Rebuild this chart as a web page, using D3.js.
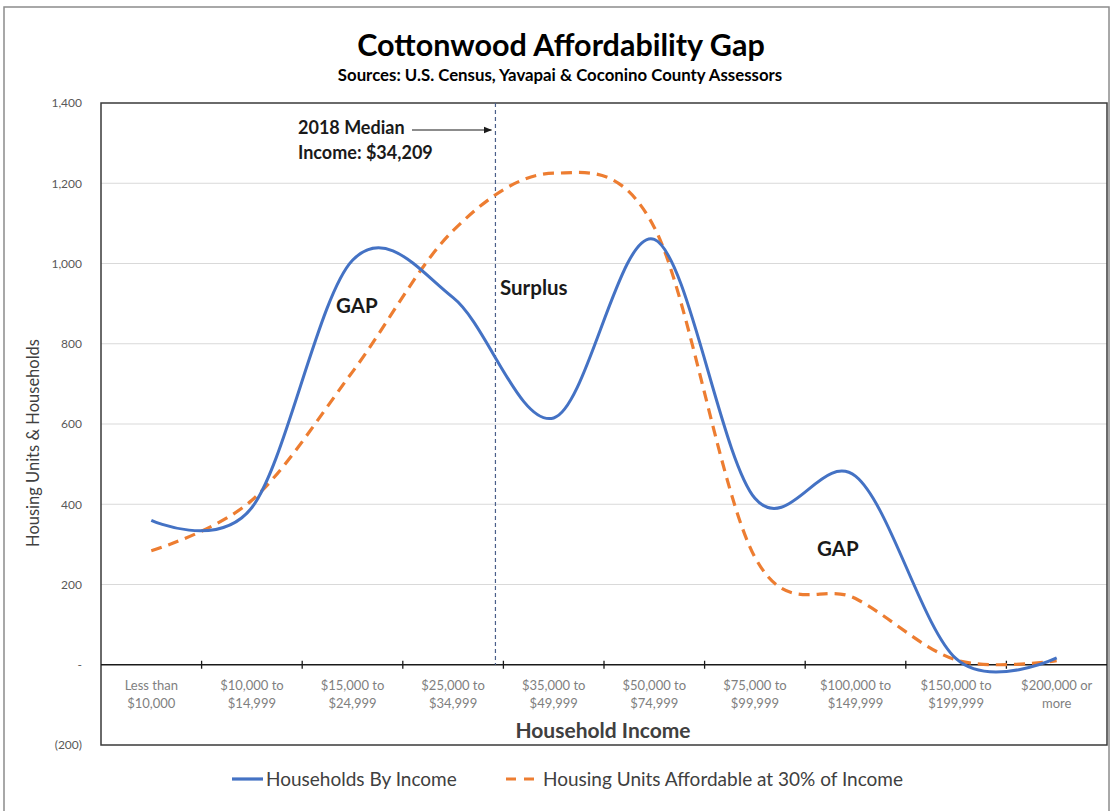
<!DOCTYPE html>
<html>
<head>
<meta charset="utf-8">
<script src="https://cdn.jsdelivr.net/npm/d3@7"></script>
<style>
  html, body { margin: 0; padding: 0; background: #ffffff; }
  svg { display: block; font-family: Lato, "Open Sans", sans-serif; }
</style>
</head>
<body>
<svg id="chart" width="1113" height="811"></svg>
<script>
// Household income brackets (two-line labels)
const categories = [
  ["Less than", "$10,000"],
  ["$10,000 to", "$14,999"],
  ["$15,000 to", "$24,999"],
  ["$25,000 to", "$34,999"],
  ["$35,000 to", "$49,999"],
  ["$50,000 to", "$74,999"],
  ["$75,000 to", "$99,999"],
  ["$100,000 to", "$149,999"],
  ["$150,000 to", "$199,999"],
  ["$200,000 or", "more"]
];
// Lower bound of each bracket, used to place the median income marker
const bracketLower = [0, 10000, 15000, 25000, 35000, 50000, 75000, 100000, 150000, 200000];

const households = [360, 392, 1008, 915, 615, 1060, 415, 470, 15, 17];
const affordableUnits = [284, 410, 730, 1082, 1225, 1090, 268, 165, 12, 10];

const yTickValues = [-200, 0, 200, 400, 600, 800, 1000, 1200, 1400];
const yTickLabels = ["(200)", "-", "200", "400", "600", "800", "1,000", "1,200", "1,400"];

const medianIncome = 34209;
const seriesNames = ["Households By Income", "Housing Units Affordable at 30% of Income"];

const BLUE = "#4472C4", ORANGE = "#ED7D31";

const svg = d3.select("#chart");
const plot = { left: 101, right: 1107, top: 103, bottom: 745 };

// outer chart frame
svg.append("rect")
  .attr("x", 4).attr("y", 7).attr("width", 1105).attr("height", 830)
  .attr("fill", "none").attr("stroke", "#8c8c8c").attr("stroke-width", 1.5);

const keys = categories.map((d, i) => i);
const x = d3.scaleBand().domain(keys).range([plot.left, plot.right]).padding(0);
const bw = x.bandwidth();
const cx = i => x(i) + bw / 2;
const y = d3.scaleLinear().domain([-200, 1400]).range([plot.bottom, plot.top]);

// gridlines
svg.append("g")
  .selectAll("line")
  .data(yTickValues.filter(v => v > 0 && v < 1400))
  .join("line")
  .attr("x1", plot.left).attr("x2", plot.right)
  .attr("y1", d => y(d)).attr("y2", d => y(d))
  .attr("stroke", "#d9d9d9").attr("stroke-width", 1.2);

// plot-area border
svg.append("rect")
  .attr("x", plot.left).attr("y", plot.top)
  .attr("width", plot.right - plot.left).attr("height", plot.bottom - plot.top)
  .attr("fill", "none").attr("stroke", "#3a3a3a").attr("stroke-width", 1.5);

// y axis labels
const yAxis = d3.axisLeft(y)
  .tickValues(yTickValues)
  .tickFormat((d, i) => yTickLabels[i])
  .tickSize(0).tickPadding(19);
const gy = svg.append("g").attr("transform", `translate(${plot.left},0)`).call(yAxis);
gy.select(".domain").remove();
gy.selectAll("text").attr("fill", "#595959").style("font-size", "12px")
  .style("font-family", "Lato, 'Open Sans', sans-serif");

// x axis at zero
const gx = svg.append("g").attr("transform", `translate(0,${y(0)})`);
gx.append("line").attr("x1", plot.left).attr("x2", plot.right)
  .attr("stroke", "#1a1a1a").attr("stroke-width", 1.5);
gx.selectAll("line.tick")
  .data(keys.slice(1))
  .join("line").attr("class", "tick")
  .attr("x1", d => x(d)).attr("x2", d => x(d))
  .attr("y1", -4).attr("y2", 4)
  .attr("stroke", "#1a1a1a").attr("stroke-width", 1.3);
const lbl = gx.selectAll("text.cat")
  .data(categories)
  .join("text").attr("class", "cat")
  .attr("text-anchor", "middle")
  .attr("fill", "#7f7f7f")
  .style("font-size", "13px");
lbl.append("tspan").attr("x", (d, i) => cx(i)).attr("y", 25).text(d => d[0]);
lbl.append("tspan").attr("x", (d, i) => cx(i)).attr("y", 43).text(d => d[1]);

// median income marker
const mIdx = d3.bisectRight(bracketLower, medianIncome) - 1;
const xMed = x(mIdx) + (medianIncome - bracketLower[mIdx]) / (bracketLower[mIdx + 1] - bracketLower[mIdx]) * bw;
svg.append("line")
  .attr("x1", xMed).attr("x2", xMed).attr("y1", plot.top).attr("y2", y(0))
  .attr("stroke", "#4a5f8a").attr("stroke-width", 1.2).attr("stroke-dasharray", "4,3");

// series lines
const line = d3.line()
  .x((d, i) => cx(i))
  .y(d => y(d))
  .curve(d3.curveCardinal.tension(0));

svg.append("path").datum(affordableUnits)
  .attr("d", line).attr("fill", "none")
  .attr("stroke", ORANGE).attr("stroke-width", 3.2)
  .attr("stroke-dasharray", "11,7");

svg.append("path").datum(households)
  .attr("d", line).attr("fill", "none")
  .attr("stroke", BLUE).attr("stroke-width", 3);

// annotations
const defs = svg.append("defs");
defs.append("marker").attr("id", "arrow")
  .attr("viewBox", "0 0 10 10").attr("refX", 9).attr("refY", 5)
  .attr("markerWidth", 7).attr("markerHeight", 7).attr("orient", "auto")
  .append("path").attr("d", "M0,1 L10,5 L0,9 Z").attr("fill", "#1a1a1a");

const ann = svg.append("g").attr("fill", "#1a1a1a").style("font-weight", 700);
ann.append("text").attr("x", 298).attr("y", 134).style("font-size", "18px").text("2018 Median");
ann.append("text").attr("x", 298).attr("y", 159).style("font-size", "18px").text("Income: $34,209");
svg.append("line").attr("x1", 412).attr("x2", xMed - 4).attr("y1", 130).attr("y2", 130)
  .attr("stroke", "#1a1a1a").attr("stroke-width", 1.2).attr("marker-end", "url(#arrow)");
ann.append("text").attr("x", 336).attr("y", 313).style("font-size", "20.5px").text("GAP");
ann.append("text").attr("x", 500).attr("y", 295).style("font-size", "20.5px").text("Surplus");
ann.append("text").attr("x", 817).attr("y", 556).style("font-size", "20.5px").text("GAP");

// titles
svg.append("text").attr("x", 561).attr("y", 56).attr("text-anchor", "middle")
  .style("font-size", "30.5px").style("font-weight", 700).attr("fill", "#000")
  .text("Cottonwood Affordability Gap");
svg.append("text").attr("x", 560).attr("y", 81).attr("text-anchor", "middle")
  .style("font-size", "16.8px").style("font-weight", 700).attr("fill", "#000")
  .text("Sources: U.S. Census, Yavapai & Coconino County Assessors");
svg.append("text").attr("x", 603).attr("y", 738).attr("text-anchor", "middle")
  .style("font-size", "21px").style("font-weight", 700).attr("fill", "#404040")
  .text("Household Income");
svg.append("text")
  .attr("transform", "translate(39,443) rotate(-90)")
  .attr("text-anchor", "middle")
  .style("font-size", "16.5px").attr("fill", "#404040")
  .text("Housing Units & Households");

// legend
const leg = svg.append("g").attr("transform", "translate(0,779)");
leg.append("line").attr("x1", 232).attr("x2", 263).attr("y1", 0).attr("y2", 0)
  .attr("stroke", BLUE).attr("stroke-width", 3.2);
leg.append("text").attr("x", 266).attr("y", 7).style("font-size", "19px").attr("fill", "#404040")
  .text(seriesNames[0]);
leg.append("line").attr("x1", 506).attr("x2", 534).attr("y1", 0).attr("y2", 0)
  .attr("stroke", ORANGE).attr("stroke-width", 3.2).attr("stroke-dasharray", "10,8");
leg.append("text").attr("x", 543).attr("y", 7).style("font-size", "19px").attr("fill", "#404040")
  .text(seriesNames[1]);
</script>
</body>
</html>
